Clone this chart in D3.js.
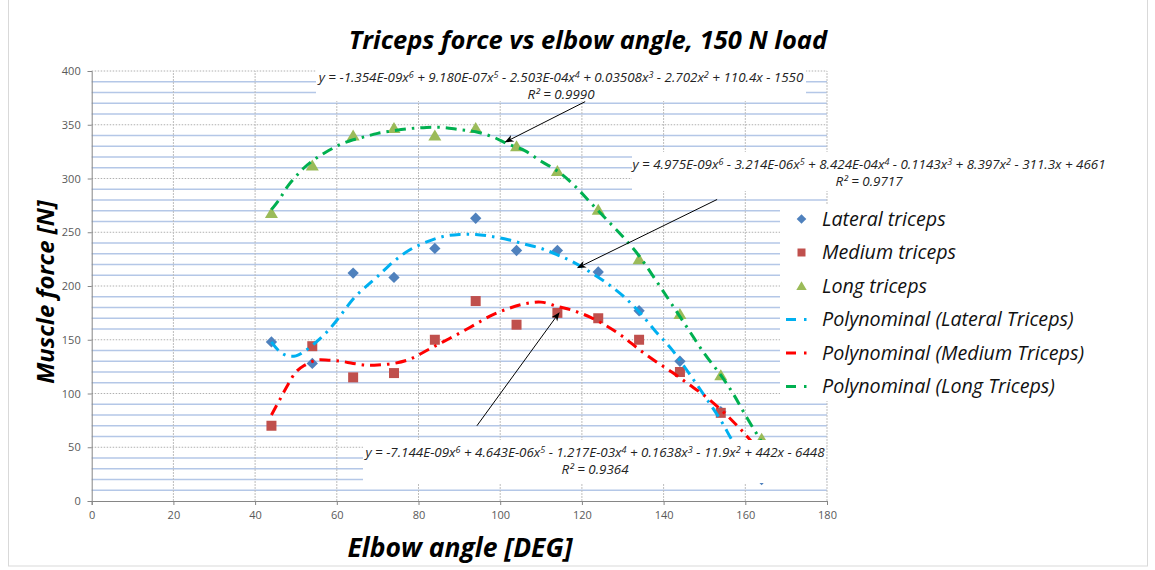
<!DOCTYPE html>
<html>
<head>
<meta charset="utf-8">
<script src="https://cdn.jsdelivr.net/npm/d3@7"></script>
<style>
  body { margin: 0; background: #fff; }
  text { font-family: "Open Sans", sans-serif; }
</style>
</head>
<body>
<div id="chart"></div>
<script>
var width = 1155,
    height = 570;

// measured points
var angles  = [44, 54, 64, 74, 84, 94, 104, 114, 124, 134, 144, 154, 164];
var lateral = [148, 128, 212, 208, 235, 263, 233, 233, 213, 177, 130, 83, 20];
var medium  = [70, 144, 115, 119, 150, 186, 164, 175, 170, 150, 120, 82, 40];
var longT   = [268, 312, 340, 347, 340, 347, 330, 307, 271, 225, 174, 117, 58];

// trend lines
var fitX       = [44, 46, 48, 50, 52, 55, 58, 61, 64, 67, 70, 74, 78, 82, 86, 90, 94, 98, 102, 106, 110, 114, 118, 122, 126, 130, 134, 138, 142, 146, 150, 154, 157, 160, 164];
var lateralFit = [148, 139, 135, 135, 139, 148, 159, 173, 188, 199, 209, 223, 234, 241, 246, 248, 248, 246, 243, 239, 235, 229, 222, 213, 203, 191, 176, 158, 141, 120, 98, 75, 55, 38, 16];
var mediumFit  = [80, 94, 108, 120, 126, 131, 131, 130, 128, 126.5, 126.5, 128, 132, 140, 148, 156, 164.5, 173, 179, 183.5, 185, 181, 177, 171, 163, 153, 141, 130, 120, 109, 98, 85, 74, 62, 44];
var longFit    = [271, 281, 293, 302, 310, 319, 326, 332, 336, 339, 342, 344.5, 346.5, 347.5, 347.5, 345.5, 343.5, 339, 332, 326, 316, 307, 294, 278, 262, 246, 228, 206, 183, 160, 137, 117, 100, 80, 55];

var xTicks = [0, 20, 40, 60, 80, 100, 120, 140, 160, 180];
var yTicks = [0, 50, 100, 150, 200, 250, 300, 350, 400];

var legendLabels = ["Lateral triceps", "Medium triceps", "Long triceps",
  "Polynominal (Lateral Triceps)", "Polynominal (Medium Triceps)", "Polynominal (Long Triceps)"];

// equation labels: [text, superscript] pieces
var eqLong = [["y = -1.354E-09x", "6"], [" + 9.180E-07x", "5"], [" - 2.503E-04x", "4"], [" + 0.03508x", "3"], [" - 2.702x", "2"], [" + 110.4x - 1550", ""]];
var eqLateral = [["y = 4.975E-09x", "6"], [" - 3.214E-06x", "5"], [" + 8.424E-04x", "4"], [" - 0.1143x", "3"], [" + 8.397x", "2"], [" - 311.3x + 4661", ""]];
var eqMedium = [["y = -7.144E-09x", "6"], [" + 4.643E-06x", "5"], [" - 1.217E-03x", "4"], [" + 0.1638x", "3"], [" - 11.9x", "2"], [" + 442x - 6448", ""]];
var r2Labels = ["R² = 0.9990", "R² = 0.9717", "R² = 0.9364"];

var x = d3.scaleLinear().domain([0, 180]).range([91.7, 827]);
var y = d3.scaleLinear().domain([0, 400]).range([501, 71]);

var svg = d3.select("#chart").append("svg")
    .attr("width", width)
    .attr("height", height);

// outer border
svg.append("rect")
    .attr("x", 8.5).attr("y", -1).attr("width", 1139).attr("height", 567)
    .attr("fill", "none").attr("stroke", "#d9d9d9");

var grid = svg.append("g");

// minor horizontal grid (blue)
grid.selectAll(".minor")
    .data(d3.range(10, 400, 10).filter(function(v) { return v % 50 !== 0; }))
  .enter().append("line")
    .attr("x1", x(0)).attr("x2", x(180))
    .attr("y1", function(d) { return y(d); }).attr("y2", function(d) { return y(d); })
    .attr("stroke", "#b4c7e7").attr("stroke-width", 1.3);

// major horizontal grid (grey dotted)
grid.selectAll(".major")
    .data(yTicks.slice(1))
  .enter().append("line")
    .attr("x1", x(0)).attr("x2", x(180))
    .attr("y1", function(d) { return y(d); }).attr("y2", function(d) { return y(d); })
    .attr("stroke", "#b0b0b0").attr("stroke-dasharray", "1.5,1.5");

// vertical grid
grid.selectAll(".vert")
    .data(xTicks.slice(1))
  .enter().append("line")
    .attr("x1", function(d) { return x(d); }).attr("x2", function(d) { return x(d); })
    .attr("y1", y(0)).attr("y2", y(400))
    .attr("stroke", "#bdbdbd").attr("stroke-dasharray", "2,1");

// axes
var yAxis = svg.append("g")
    .attr("transform", "translate(" + x(0) + ",0)")
    .call(d3.axisLeft(y).tickValues(yTicks).tickSize(4).tickPadding(7));
var xAxis = svg.append("g")
    .attr("transform", "translate(0," + y(0) + ")")
    .call(d3.axisBottom(x).tickValues(xTicks).tickSize(4).tickPadding(6));
[xAxis, yAxis].forEach(function(a) {
  a.select(".domain").attr("stroke", "#868686");
  a.selectAll(".tick line").attr("stroke", "#868686");
  a.selectAll(".tick text").attr("fill", "#595959").style("font-size", "11px")
      .style("font-family", "'Open Sans', sans-serif");
});

// markers
var series = [
  { values: lateral, fill: "#4f81bd", shape: "diamond" },
  { values: medium,  fill: "#c0504d", shape: "square" },
  { values: longT,   fill: "#9bbb59", shape: "triangle" }
];
function symbolPath(shape) {
  if (shape === "diamond") return d3.symbol().type(d3.symbolSquare).size(64)();
  if (shape === "square") return d3.symbol().type(d3.symbolSquare).size(100)();
  return "M0,-6L6.5,5L-6.5,5Z";
}
function symbolRot(shape) { return shape === "diamond" ? " rotate(45)" : ""; }

series.forEach(function(s) {
  svg.append("g").selectAll("path")
      .data(angles.map(function(a, i) { return [a, s.values[i]]; }))
    .enter().append("path")
      .attr("d", symbolPath(s.shape))
      .attr("transform", function(d) { return "translate(" + x(d[0]) + "," + y(d[1]) + ")" + symbolRot(s.shape); })
      .attr("fill", s.fill);
});

// trend lines
var line = d3.line()
    .x(function(d) { return x(d[0]); })
    .y(function(d) { return y(d[1]); })
    .curve(d3.curveCatmullRom);
var fits = [
  { values: lateralFit, color: "#00b0f0" },
  { values: mediumFit,  color: "#ff0000" },
  { values: longFit,    color: "#00b050" }
];
fits.forEach(function(f) {
  svg.append("path")
      .datum(fitX.map(function(a, i) { return [a, f.values[i]]; }))
      .attr("d", line)
      .attr("fill", "none")
      .attr("stroke", f.color)
      .attr("stroke-width", 3)
      .attr("stroke-dasharray", "11,6,2.5,6");
});

// equation labels with white background
var labels = [
  { eq: eqLong,    r2: r2Labels[0], box: [316, 68, 490, 33],  cx: 561, y1: 82,  y2: 99 },
  { eq: eqLateral, r2: r2Labels[1], box: [632, 152, 478, 39], cx: 869, y1: 169, y2: 186 },
  { eq: eqMedium,  r2: r2Labels[2], box: [363, 440, 463, 43], cx: 595, y1: 457, y2: 474 }
];
labels.forEach(function(l) {
  svg.append("rect")
      .attr("x", l.box[0]).attr("y", l.box[1]).attr("width", l.box[2]).attr("height", l.box[3])
      .attr("fill", "#fff");
  var t = svg.append("text")
      .attr("x", l.cx).attr("y", l.y1)
      .attr("text-anchor", "middle")
      .style("font-size", "13.4px").style("font-style", "italic").attr("fill", "#222");
  var up = false;
  l.eq.forEach(function(p) {
    t.append("tspan").attr("dy", up ? 4.5 : 0).text(p[0]);
    up = false;
    if (p[1]) {
      t.append("tspan").attr("dy", -4.5).style("font-size", "9px").text(p[1]);
      up = true;
    }
  });
  svg.append("text")
      .attr("x", l.cx).attr("y", l.y2)
      .attr("text-anchor", "middle")
      .style("font-size", "13.4px").style("font-style", "italic").attr("fill", "#222")
      .text(l.r2);
});

// arrows
svg.append("defs").append("marker")
    .attr("id", "arrow")
    .attr("viewBox", "0 0 10 10")
    .attr("refX", 9).attr("refY", 5)
    .attr("markerWidth", 9).attr("markerHeight", 9)
    .attr("orient", "auto")
  .append("path")
    .attr("d", "M0,1L10,5L0,9L3,5Z")
    .attr("fill", "#000");
var arrows = [
  [[120.8, 371.5], [101.3, 334]],
  [[153.1, 280.5], [119, 217]],
  [[94.3, 70], [114.4, 175]]
];
arrows.forEach(function(a) {
  svg.append("line")
      .attr("x1", x(a[0][0])).attr("y1", y(a[0][1]))
      .attr("x2", x(a[1][0])).attr("y2", y(a[1][1]))
      .attr("stroke", "#000").attr("stroke-width", 1)
      .attr("marker-end", "url(#arrow)");
});

// legend
svg.append("rect")
    .attr("x", 780).attr("y", 204).attr("width", 318).attr("height", 197)
    .attr("fill", "#fff");
var legend = svg.append("g").selectAll("g")
    .data(legendLabels)
  .enter().append("g")
    .attr("transform", function(d, i) { return "translate(0," + (219 + i * 33.5) + ")"; });
legend.each(function(d, i) {
  var g = d3.select(this);
  if (i < 3) {
    g.append("path")
        .attr("d", symbolPath(series[i].shape))
        .attr("transform", "translate(801.5,0)" + symbolRot(series[i].shape) + (series[i].shape === "diamond" ? " scale(0.85)" : " scale(0.8)"))
        .attr("fill", series[i].fill);
  } else {
    g.append("line")
        .attr("x1", 786).attr("x2", 811)
        .attr("stroke", fits[i - 3].color)
        .attr("stroke-width", 3)
        .attr("stroke-dasharray", "10,8,2.5,8");
  }
  g.append("text")
      .attr("x", 822).attr("dy", "0.35em")
      .style("font-size", "19.7px").style("font-style", "italic").attr("fill", "#111")
      .text(d);
});

// titles
svg.append("text")
    .attr("x", 588).attr("y", 49)
    .attr("text-anchor", "middle")
    .style("font-size", "25.5px").style("font-weight", "bold").style("font-style", "italic")
    .text("Triceps force vs elbow angle, 150 N load");
svg.append("text")
    .attr("x", 460).attr("y", 557)
    .attr("text-anchor", "middle")
    .style("font-size", "26.5px").style("font-weight", "bold").style("font-style", "italic")
    .text("Elbow angle [DEG]");
svg.append("text")
    .attr("transform", "translate(54,292) rotate(-90)")
    .attr("text-anchor", "middle")
    .style("font-size", "24px").style("font-weight", "bold").style("font-style", "italic")
    .text("Muscle force [N]");
</script>
</body>
</html>
